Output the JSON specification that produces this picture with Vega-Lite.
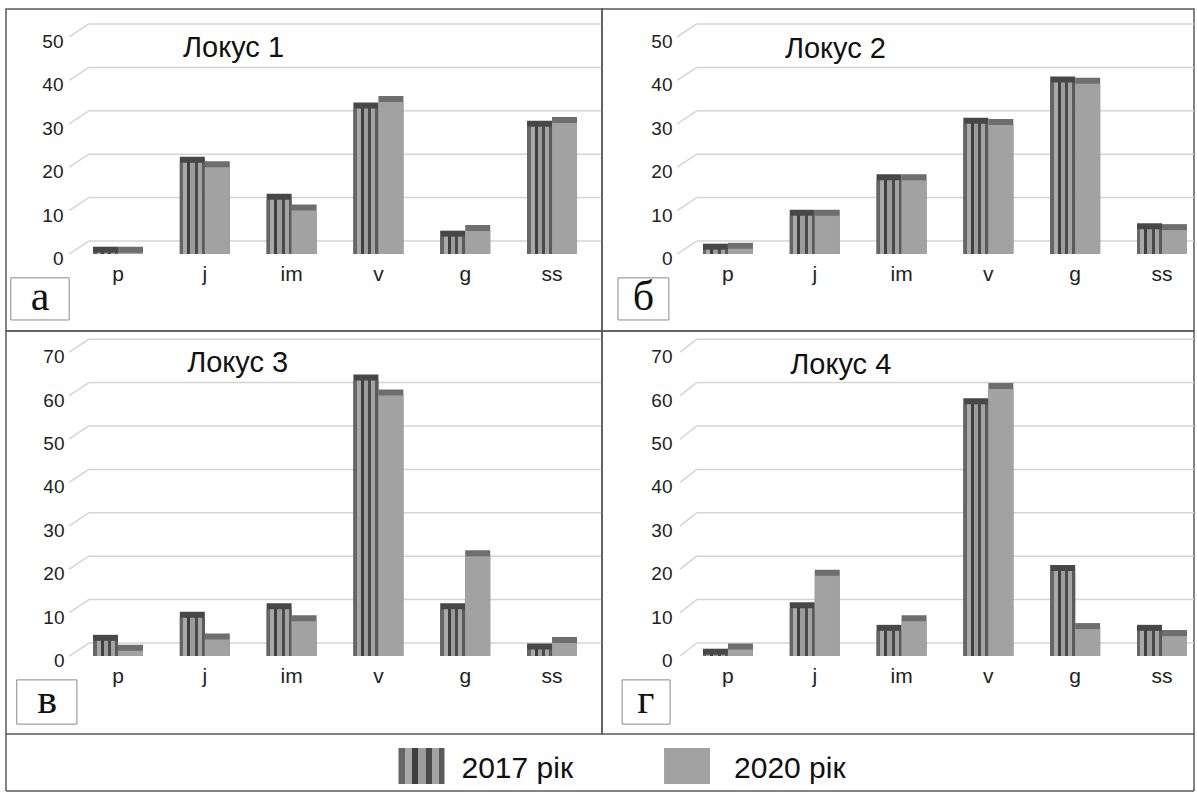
{
  "$schema": "https://vega.github.io/schema/vega-lite/v6.json",
  "padding": {"left": 5, "top": 8, "right": 0, "bottom": 0},
  "background": "white",
  "bounds": "flush",
  "spacing": 0,
  "columns": 2,
  "config": {
    "view": {"stroke": "#5a5a5a", "strokeWidth": 1.5},
    "axis": {"labelColor": "#222222", "labelFont": "Liberation Sans"}
  },
  "datasets": {
    "bars": [
      {"panel": "Локус 1", "cat": "p", "year": "2017", "value": 0.3},
      {"panel": "Локус 1", "cat": "p", "year": "2020", "value": 0.3},
      {"panel": "Локус 1", "cat": "j", "year": "2017", "value": 21},
      {"panel": "Локус 1", "cat": "j", "year": "2020", "value": 20},
      {"panel": "Локус 1", "cat": "im", "year": "2017", "value": 12.5},
      {"panel": "Локус 1", "cat": "im", "year": "2020", "value": 10},
      {"panel": "Локус 1", "cat": "v", "year": "2017", "value": 33.5},
      {"panel": "Локус 1", "cat": "v", "year": "2020", "value": 35},
      {"panel": "Локус 1", "cat": "g", "year": "2017", "value": 4},
      {"panel": "Локус 1", "cat": "g", "year": "2020", "value": 5.3},
      {"panel": "Локус 1", "cat": "ss", "year": "2017", "value": 29.3},
      {"panel": "Локус 1", "cat": "ss", "year": "2020", "value": 30.2},
      {"panel": "Локус 2", "cat": "p", "year": "2017", "value": 1},
      {"panel": "Локус 2", "cat": "p", "year": "2020", "value": 1.2},
      {"panel": "Локус 2", "cat": "j", "year": "2017", "value": 8.8},
      {"panel": "Локус 2", "cat": "j", "year": "2020", "value": 8.8},
      {"panel": "Локус 2", "cat": "im", "year": "2017", "value": 17},
      {"panel": "Локус 2", "cat": "im", "year": "2020", "value": 17},
      {"panel": "Локус 2", "cat": "v", "year": "2017", "value": 30},
      {"panel": "Локус 2", "cat": "v", "year": "2020", "value": 29.7},
      {"panel": "Локус 2", "cat": "g", "year": "2017", "value": 39.5},
      {"panel": "Локус 2", "cat": "g", "year": "2020", "value": 39.2},
      {"panel": "Локус 2", "cat": "ss", "year": "2017", "value": 5.7},
      {"panel": "Локус 2", "cat": "ss", "year": "2020", "value": 5.5},
      {"panel": "Локус 3", "cat": "p", "year": "2017", "value": 3.5},
      {"panel": "Локус 3", "cat": "p", "year": "2020", "value": 1.2},
      {"panel": "Локус 3", "cat": "j", "year": "2017", "value": 8.8},
      {"panel": "Локус 3", "cat": "j", "year": "2020", "value": 3.8},
      {"panel": "Локус 3", "cat": "im", "year": "2017", "value": 10.8},
      {"panel": "Локус 3", "cat": "im", "year": "2020", "value": 8},
      {"panel": "Локус 3", "cat": "v", "year": "2017", "value": 63.5},
      {"panel": "Локус 3", "cat": "v", "year": "2020", "value": 60},
      {"panel": "Локус 3", "cat": "g", "year": "2017", "value": 10.8},
      {"panel": "Локус 3", "cat": "g", "year": "2020", "value": 23},
      {"panel": "Локус 3", "cat": "ss", "year": "2017", "value": 1.5},
      {"panel": "Локус 3", "cat": "ss", "year": "2020", "value": 3},
      {"panel": "Локус 4", "cat": "p", "year": "2017", "value": 0.3},
      {"panel": "Локус 4", "cat": "p", "year": "2020", "value": 1.5},
      {"panel": "Локус 4", "cat": "j", "year": "2017", "value": 11},
      {"panel": "Локус 4", "cat": "j", "year": "2020", "value": 18.5},
      {"panel": "Локус 4", "cat": "im", "year": "2017", "value": 5.8},
      {"panel": "Локус 4", "cat": "im", "year": "2020", "value": 8},
      {"panel": "Локус 4", "cat": "v", "year": "2017", "value": 58},
      {"panel": "Локус 4", "cat": "v", "year": "2020", "value": 61.5},
      {"panel": "Локус 4", "cat": "g", "year": "2017", "value": 19.6},
      {"panel": "Локус 4", "cat": "g", "year": "2020", "value": 6.2},
      {"panel": "Локус 4", "cat": "ss", "year": "2017", "value": 5.8},
      {"panel": "Локус 4", "cat": "ss", "year": "2020", "value": 4.6}
    ],
    "grid": [{"v": 0}, {"v": 10}, {"v": 20}, {"v": 30}, {"v": 40}, {"v": 50}, {"v": 60}, {"v": 70}],
    "panels": [
      {"panel": "Локус 1", "letter": "а"},
      {"panel": "Локус 2", "letter": "б"},
      {"panel": "Локус 3", "letter": "в"},
      {"panel": "Локус 4", "letter": "г"}
    ],
    "legend": [
      {"label": "2017 рік", "year": "2017"},
      {"label": "2020 рік", "year": "2020"}
    ]
  },
  "concat": [
    {
      "width": 596, "height": 322,
      "resolve": {"scale": {"x": "independent"}},
      "layer": [
        {"data": {"name": "grid"}, "transform": [{"filter": "datum.v <= 50"}],
         "mark": {"type": "rule", "color": "#d4d4d4", "strokeWidth": 1.5, "yOffset": -13},
         "encoding": {
           "x": {"datum": 0.139, "type": "quantitative", "scale": {"domain": [0, 1]}, "axis": null},
           "x2": {"datum": 1},
           "y": {"field": "v", "type": "quantitative", "title": null,
                 "scale": {"domain": [-17.74, 56.45], "nice": false, "zero": false},
                 "axis": {"values": [0, 10, 20, 30, 40, 50], "offset": -57, "domain": false, "ticks": false, "grid": false, "labelPadding": 0, "labelFontSize": 19, "labelOffset": 4.5, "title": null}}}},
        {"data": {"name": "grid"}, "transform": [{"filter": "datum.v <= 50"}],
         "mark": {"type": "rule", "color": "#d4d4d4", "strokeWidth": 1.5, "y2Offset": -13},
         "encoding": {
           "x": {"datum": 0.106, "type": "quantitative", "scale": {"domain": [0, 1]}, "axis": null},
           "x2": {"datum": 0.139},
           "y": {"field": "v", "type": "quantitative", "title": null},
           "y2": {"field": "v"}}},
        {"data": {"name": "bars"}, "transform": [{"filter": "datum.panel === 'Локус 1'"}],
         "encoding": {
           "x": {"field": "cat", "type": "nominal", "scale": {"domain": ["p", "j", "im", "v", "g", "ss"], "paddingInner": 0.424, "paddingOuter": 0.645, "align": 0.777},
                 "axis": {"orient": "bottom", "offset": -68, "domain": false, "ticks": false, "labelPadding": 0, "labelFontSize": 21, "labelBaseline": "top", "labelAngle": 0, "title": null}},
           "xOffset": {"field": "year", "type": "nominal", "scale": {"domain": ["2017", "2020"]}},
           "y": {"field": "value", "type": "quantitative", "title": null},
           "y2": {"datum": 0}},
         "layer": [
           {"transform": [{"filter": "datum.year === '2017'"}], "mark": {"type": "bar", "color": "#474747", "xOffset": 7, "yOffset": -6}},
           {"transform": [{"filter": "datum.year === '2017'"}], "mark": {"type": "bar", "color": {"gradient": "linear", "x1": 0, "y1": 0, "x2": 1, "y2": 0, "stops": [{"offset": 0, "color": "#666666"}, {"offset": 0.14, "color": "#666666"}, {"offset": 0.14, "color": "#a9a9a9"}, {"offset": 0.3, "color": "#a9a9a9"}, {"offset": 0.3, "color": "#3f3f3f"}, {"offset": 0.42, "color": "#3f3f3f"}, {"offset": 0.42, "color": "#9c9c9c"}, {"offset": 0.6, "color": "#9c9c9c"}, {"offset": 0.6, "color": "#4a4a4a"}, {"offset": 0.72, "color": "#4a4a4a"}, {"offset": 0.72, "color": "#a3a3a3"}, {"offset": 0.88, "color": "#a3a3a3"}, {"offset": 0.88, "color": "#5a5a5a"}, {"offset": 1, "color": "#5a5a5a"}]}}},
           {"transform": [{"filter": "datum.year === '2020'"}], "mark": {"type": "bar", "color": "#6e6e6e", "xOffset": 7, "yOffset": -6}},
           {"transform": [{"filter": "datum.year === '2020'"}], "mark": {"type": "bar", "color": "#a2a2a2"}}
         ]},
        {"data": {"name": "panels"}, "transform": [{"filter": "datum.panel === 'Локус 1'"}],
         "mark": {"type": "rect", "fill": "white", "stroke": "#8a8a8a", "strokeWidth": 1},
         "encoding": {
           "x": {"datum": 0.008, "type": "quantitative", "scale": {"domain": [0, 1]}, "axis": null},
           "x2": {"datum": 0.106},
           "y": {"datum": -5.5, "type": "quantitative"},
           "y2": {"datum": -15.2}}},
        {"data": {"name": "panels"}, "transform": [{"filter": "datum.panel === 'Локус 1'"}],
         "mark": {"type": "text", "font": "Liberation Serif", "fontSize": 42, "color": "#111111", "align": "center", "baseline": "middle"},
         "encoding": {
           "x": {"datum": 0.057, "type": "quantitative", "scale": {"domain": [0, 1]}, "axis": null},
           "y": {"datum": -9.9, "type": "quantitative"},
           "text": {"field": "letter"}}},
        {"data": {"name": "panels"}, "transform": [{"filter": "datum.panel === 'Локус 1'"}],
         "mark": {"type": "text", "font": "Liberation Sans", "fontSize": 29, "color": "#111111", "align": "left", "baseline": "alphabetic"},
         "encoding": {
           "x": {"datum": 0.297, "type": "quantitative", "scale": {"domain": [0, 1]}, "axis": null},
           "y": {"datum": 45.4, "type": "quantitative"},
           "text": {"field": "panel"}}}
      ]
    },
    {
      "width": 592, "height": 322,
      "resolve": {"scale": {"x": "independent"}},
      "layer": [
        {"data": {"name": "grid"}, "transform": [{"filter": "datum.v <= 50"}],
         "mark": {"type": "rule", "color": "#d4d4d4", "strokeWidth": 1.5, "yOffset": -13},
         "encoding": {
           "x": {"datum": 0.16, "type": "quantitative", "scale": {"domain": [0, 1]}, "axis": null},
           "x2": {"datum": 1},
           "y": {"field": "v", "type": "quantitative", "title": null,
                 "scale": {"domain": [-17.74, 56.45], "nice": false, "zero": false},
                 "axis": {"values": [0, 10, 20, 30, 40, 50], "offset": -70, "domain": false, "ticks": false, "grid": false, "labelPadding": 0, "labelFontSize": 19, "labelOffset": 4.5, "title": null}}}},
        {"data": {"name": "grid"}, "transform": [{"filter": "datum.v <= 50"}],
         "mark": {"type": "rule", "color": "#d4d4d4", "strokeWidth": 1.5, "y2Offset": -13},
         "encoding": {
           "x": {"datum": 0.127, "type": "quantitative", "scale": {"domain": [0, 1]}, "axis": null},
           "x2": {"datum": 0.16},
           "y": {"field": "v", "type": "quantitative", "title": null},
           "y2": {"field": "v"}}},
        {"data": {"name": "bars"}, "transform": [{"filter": "datum.panel === 'Локус 2'"}],
         "encoding": {
           "x": {"field": "cat", "type": "nominal", "scale": {"domain": ["p", "j", "im", "v", "g", "ss"], "paddingInner": 0.424, "paddingOuter": 0.622, "align": 0.935},
                 "axis": {"orient": "bottom", "offset": -68, "domain": false, "ticks": false, "labelPadding": 0, "labelFontSize": 21, "labelBaseline": "top", "labelAngle": 0, "title": null}},
           "xOffset": {"field": "year", "type": "nominal", "scale": {"domain": ["2017", "2020"]}},
           "y": {"field": "value", "type": "quantitative", "title": null},
           "y2": {"datum": 0}},
         "layer": [
           {"transform": [{"filter": "datum.year === '2017'"}], "mark": {"type": "bar", "color": "#474747", "xOffset": 7, "yOffset": -6}},
           {"transform": [{"filter": "datum.year === '2017'"}], "mark": {"type": "bar", "color": {"gradient": "linear", "x1": 0, "y1": 0, "x2": 1, "y2": 0, "stops": [{"offset": 0, "color": "#666666"}, {"offset": 0.14, "color": "#666666"}, {"offset": 0.14, "color": "#a9a9a9"}, {"offset": 0.3, "color": "#a9a9a9"}, {"offset": 0.3, "color": "#3f3f3f"}, {"offset": 0.42, "color": "#3f3f3f"}, {"offset": 0.42, "color": "#9c9c9c"}, {"offset": 0.6, "color": "#9c9c9c"}, {"offset": 0.6, "color": "#4a4a4a"}, {"offset": 0.72, "color": "#4a4a4a"}, {"offset": 0.72, "color": "#a3a3a3"}, {"offset": 0.88, "color": "#a3a3a3"}, {"offset": 0.88, "color": "#5a5a5a"}, {"offset": 1, "color": "#5a5a5a"}]}}},
           {"transform": [{"filter": "datum.year === '2020'"}], "mark": {"type": "bar", "color": "#6e6e6e", "xOffset": 7, "yOffset": -6}},
           {"transform": [{"filter": "datum.year === '2020'"}], "mark": {"type": "bar", "color": "#a2a2a2"}}
         ]},
        {"data": {"name": "panels"}, "transform": [{"filter": "datum.panel === 'Локус 2'"}],
         "mark": {"type": "rect", "fill": "white", "stroke": "#8a8a8a", "strokeWidth": 1},
         "encoding": {
           "x": {"datum": 0.027, "type": "quantitative", "scale": {"domain": [0, 1]}, "axis": null},
           "x2": {"datum": 0.113},
           "y": {"datum": -5.5, "type": "quantitative"},
           "y2": {"datum": -15.2}}},
        {"data": {"name": "panels"}, "transform": [{"filter": "datum.panel === 'Локус 2'"}],
         "mark": {"type": "text", "font": "Liberation Serif", "fontSize": 42, "color": "#111111", "align": "center", "baseline": "middle"},
         "encoding": {
           "x": {"datum": 0.07, "type": "quantitative", "scale": {"domain": [0, 1]}, "axis": null},
           "y": {"datum": -9.9, "type": "quantitative"},
           "text": {"field": "letter"}}},
        {"data": {"name": "panels"}, "transform": [{"filter": "datum.panel === 'Локус 2'"}],
         "mark": {"type": "text", "font": "Liberation Sans", "fontSize": 29, "color": "#111111", "align": "left", "baseline": "alphabetic"},
         "encoding": {
           "x": {"datum": 0.309, "type": "quantitative", "scale": {"domain": [0, 1]}, "axis": null},
           "y": {"datum": 45.2, "type": "quantitative"},
           "text": {"field": "panel"}}}
      ]
    },
    {
      "width": 596, "height": 403,
      "resolve": {"scale": {"x": "independent"}},
      "layer": [
        {"data": {"name": "grid"}, "transform": [{"filter": "datum.v <= 70"}],
         "mark": {"type": "rule", "color": "#d4d4d4", "strokeWidth": 1.5, "yOffset": -13},
         "encoding": {
           "x": {"datum": 0.139, "type": "quantitative", "scale": {"domain": [0, 1]}, "axis": null},
           "x2": {"datum": 1},
           "y": {"field": "v", "type": "quantitative", "title": null,
                 "scale": {"domain": [-17.97, 74.88], "nice": false, "zero": false},
                 "axis": {"values": [0, 10, 20, 30, 40, 50, 60, 70], "offset": -58, "domain": false, "ticks": false, "grid": false, "labelPadding": 0, "labelFontSize": 19, "labelOffset": 4.5, "title": null}}}},
        {"data": {"name": "grid"}, "transform": [{"filter": "datum.v <= 70"}],
         "mark": {"type": "rule", "color": "#d4d4d4", "strokeWidth": 1.5, "y2Offset": -13},
         "encoding": {
           "x": {"datum": 0.106, "type": "quantitative", "scale": {"domain": [0, 1]}, "axis": null},
           "x2": {"datum": 0.139},
           "y": {"field": "v", "type": "quantitative", "title": null},
           "y2": {"field": "v"}}},
        {"data": {"name": "bars"}, "transform": [{"filter": "datum.panel === 'Локус 3'"}],
         "encoding": {
           "x": {"field": "cat", "type": "nominal", "scale": {"domain": ["p", "j", "im", "v", "g", "ss"], "paddingInner": 0.424, "paddingOuter": 0.645, "align": 0.777},
                 "axis": {"orient": "bottom", "offset": -69, "domain": false, "ticks": false, "labelPadding": 0, "labelFontSize": 21, "labelBaseline": "top", "labelAngle": 0, "title": null}},
           "xOffset": {"field": "year", "type": "nominal", "scale": {"domain": ["2017", "2020"]}},
           "y": {"field": "value", "type": "quantitative", "title": null},
           "y2": {"datum": 0}},
         "layer": [
           {"transform": [{"filter": "datum.year === '2017'"}], "mark": {"type": "bar", "color": "#474747", "xOffset": 7, "yOffset": -6}},
           {"transform": [{"filter": "datum.year === '2017'"}], "mark": {"type": "bar", "color": {"gradient": "linear", "x1": 0, "y1": 0, "x2": 1, "y2": 0, "stops": [{"offset": 0, "color": "#666666"}, {"offset": 0.14, "color": "#666666"}, {"offset": 0.14, "color": "#a9a9a9"}, {"offset": 0.3, "color": "#a9a9a9"}, {"offset": 0.3, "color": "#3f3f3f"}, {"offset": 0.42, "color": "#3f3f3f"}, {"offset": 0.42, "color": "#9c9c9c"}, {"offset": 0.6, "color": "#9c9c9c"}, {"offset": 0.6, "color": "#4a4a4a"}, {"offset": 0.72, "color": "#4a4a4a"}, {"offset": 0.72, "color": "#a3a3a3"}, {"offset": 0.88, "color": "#a3a3a3"}, {"offset": 0.88, "color": "#5a5a5a"}, {"offset": 1, "color": "#5a5a5a"}]}}},
           {"transform": [{"filter": "datum.year === '2020'"}], "mark": {"type": "bar", "color": "#6e6e6e", "xOffset": 7, "yOffset": -6}},
           {"transform": [{"filter": "datum.year === '2020'"}], "mark": {"type": "bar", "color": "#a2a2a2"}}
         ]},
        {"data": {"name": "panels"}, "transform": [{"filter": "datum.panel === 'Локус 3'"}],
         "mark": {"type": "rect", "fill": "white", "stroke": "#8a8a8a", "strokeWidth": 1},
         "encoding": {
           "x": {"datum": 0.018, "type": "quantitative", "scale": {"domain": [0, 1]}, "axis": null},
           "x2": {"datum": 0.119},
           "y": {"datum": -5.5, "type": "quantitative"},
           "y2": {"datum": -15.7}}},
        {"data": {"name": "panels"}, "transform": [{"filter": "datum.panel === 'Локус 3'"}],
         "mark": {"type": "text", "font": "Liberation Serif", "fontSize": 42, "color": "#111111", "align": "center", "baseline": "middle"},
         "encoding": {
           "x": {"datum": 0.069, "type": "quantitative", "scale": {"domain": [0, 1]}, "axis": null},
           "y": {"datum": -10.1, "type": "quantitative"},
           "text": {"field": "letter"}}},
        {"data": {"name": "panels"}, "transform": [{"filter": "datum.panel === 'Локус 3'"}],
         "mark": {"type": "text", "font": "Liberation Sans", "fontSize": 29, "color": "#111111", "align": "left", "baseline": "alphabetic"},
         "encoding": {
           "x": {"datum": 0.304, "type": "quantitative", "scale": {"domain": [0, 1]}, "axis": null},
           "y": {"datum": 65.4, "type": "quantitative"},
           "text": {"field": "panel"}}}
      ]
    },
    {
      "width": 592, "height": 403,
      "resolve": {"scale": {"x": "independent"}},
      "layer": [
        {"data": {"name": "grid"}, "transform": [{"filter": "datum.v <= 70"}],
         "mark": {"type": "rule", "color": "#d4d4d4", "strokeWidth": 1.5, "yOffset": -13},
         "encoding": {
           "x": {"datum": 0.16, "type": "quantitative", "scale": {"domain": [0, 1]}, "axis": null},
           "x2": {"datum": 1},
           "y": {"field": "v", "type": "quantitative", "title": null,
                 "scale": {"domain": [-17.97, 74.88], "nice": false, "zero": false},
                 "axis": {"values": [0, 10, 20, 30, 40, 50, 60, 70], "offset": -70, "domain": false, "ticks": false, "grid": false, "labelPadding": 0, "labelFontSize": 19, "labelOffset": 4.5, "title": null}}}},
        {"data": {"name": "grid"}, "transform": [{"filter": "datum.v <= 70"}],
         "mark": {"type": "rule", "color": "#d4d4d4", "strokeWidth": 1.5, "y2Offset": -13},
         "encoding": {
           "x": {"datum": 0.132, "type": "quantitative", "scale": {"domain": [0, 1]}, "axis": null},
           "x2": {"datum": 0.16},
           "y": {"field": "v", "type": "quantitative", "title": null},
           "y2": {"field": "v"}}},
        {"data": {"name": "bars"}, "transform": [{"filter": "datum.panel === 'Локус 4'"}],
         "encoding": {
           "x": {"field": "cat", "type": "nominal", "scale": {"domain": ["p", "j", "im", "v", "g", "ss"], "paddingInner": 0.424, "paddingOuter": 0.622, "align": 0.935},
                 "axis": {"orient": "bottom", "offset": -69, "domain": false, "ticks": false, "labelPadding": 0, "labelFontSize": 21, "labelBaseline": "top", "labelAngle": 0, "title": null}},
           "xOffset": {"field": "year", "type": "nominal", "scale": {"domain": ["2017", "2020"]}},
           "y": {"field": "value", "type": "quantitative", "title": null},
           "y2": {"datum": 0}},
         "layer": [
           {"transform": [{"filter": "datum.year === '2017'"}], "mark": {"type": "bar", "color": "#474747", "xOffset": 7, "yOffset": -6}},
           {"transform": [{"filter": "datum.year === '2017'"}], "mark": {"type": "bar", "color": {"gradient": "linear", "x1": 0, "y1": 0, "x2": 1, "y2": 0, "stops": [{"offset": 0, "color": "#666666"}, {"offset": 0.14, "color": "#666666"}, {"offset": 0.14, "color": "#a9a9a9"}, {"offset": 0.3, "color": "#a9a9a9"}, {"offset": 0.3, "color": "#3f3f3f"}, {"offset": 0.42, "color": "#3f3f3f"}, {"offset": 0.42, "color": "#9c9c9c"}, {"offset": 0.6, "color": "#9c9c9c"}, {"offset": 0.6, "color": "#4a4a4a"}, {"offset": 0.72, "color": "#4a4a4a"}, {"offset": 0.72, "color": "#a3a3a3"}, {"offset": 0.88, "color": "#a3a3a3"}, {"offset": 0.88, "color": "#5a5a5a"}, {"offset": 1, "color": "#5a5a5a"}]}}},
           {"transform": [{"filter": "datum.year === '2020'"}], "mark": {"type": "bar", "color": "#6e6e6e", "xOffset": 7, "yOffset": -6}},
           {"transform": [{"filter": "datum.year === '2020'"}], "mark": {"type": "bar", "color": "#a2a2a2"}}
         ]},
        {"data": {"name": "panels"}, "transform": [{"filter": "datum.panel === 'Локус 4'"}],
         "mark": {"type": "rect", "fill": "white", "stroke": "#8a8a8a", "strokeWidth": 1},
         "encoding": {
           "x": {"datum": 0.034, "type": "quantitative", "scale": {"domain": [0, 1]}, "axis": null},
           "x2": {"datum": 0.115},
           "y": {"datum": -5.5, "type": "quantitative"},
           "y2": {"datum": -15.7}}},
        {"data": {"name": "panels"}, "transform": [{"filter": "datum.panel === 'Локус 4'"}],
         "mark": {"type": "text", "font": "Liberation Serif", "fontSize": 42, "color": "#111111", "align": "center", "baseline": "middle"},
         "encoding": {
           "x": {"datum": 0.074, "type": "quantitative", "scale": {"domain": [0, 1]}, "axis": null},
           "y": {"datum": -10.1, "type": "quantitative"},
           "text": {"field": "letter"}}},
        {"data": {"name": "panels"}, "transform": [{"filter": "datum.panel === 'Локус 4'"}],
         "mark": {"type": "text", "font": "Liberation Sans", "fontSize": 29, "color": "#111111", "align": "left", "baseline": "alphabetic"},
         "encoding": {
           "x": {"datum": 0.318, "type": "quantitative", "scale": {"domain": [0, 1]}, "axis": null},
           "y": {"datum": 65.0, "type": "quantitative"},
           "text": {"field": "panel"}}}
      ]
    },
    {
      "width": 596, "height": 57,
      "view": {"stroke": null},
      "data": {"name": "legend"},
      "transform": [{"filter": "datum.year === '2017'"}],
      "resolve": {"scale": {"x": "independent"}},
      "layer": [
        {"mark": {"type": "rule", "color": "#5a5a5a", "strokeWidth": 1.5},
         "encoding": {
           "x": {"datum": 0, "type": "quantitative", "scale": {"domain": [0, 1]}, "axis": null},
           "x2": {"datum": 1},
           "y": {"datum": 0, "type": "quantitative", "scale": {"domain": [0, 1], "nice": false}, "axis": null}}},
        {"mark": {"type": "rule", "color": "#5a5a5a", "strokeWidth": 1.5},
         "encoding": {
           "x": {"datum": 0, "type": "quantitative", "scale": {"domain": [0, 1]}, "axis": null},
           "y": {"datum": 0, "type": "quantitative"},
           "y2": {"datum": 1}}},
        {"encoding": {
           "x": {"field": "label", "type": "nominal", "scale": {"domain": ["2017 рік"], "paddingInner": 0, "paddingOuter": 1, "align": 0.7957}, "axis": null}},
         "layer": [
           {"mark": {"type": "bar", "width": 46, "color": {"gradient": "linear", "x1": 0, "y1": 0, "x2": 1, "y2": 0, "stops": [{"offset": 0, "color": "#666666"}, {"offset": 0.14, "color": "#666666"}, {"offset": 0.14, "color": "#a9a9a9"}, {"offset": 0.3, "color": "#a9a9a9"}, {"offset": 0.3, "color": "#3f3f3f"}, {"offset": 0.42, "color": "#3f3f3f"}, {"offset": 0.42, "color": "#9c9c9c"}, {"offset": 0.6, "color": "#9c9c9c"}, {"offset": 0.6, "color": "#4a4a4a"}, {"offset": 0.72, "color": "#4a4a4a"}, {"offset": 0.72, "color": "#a3a3a3"}, {"offset": 0.88, "color": "#a3a3a3"}, {"offset": 0.88, "color": "#5a5a5a"}, {"offset": 1, "color": "#5a5a5a"}]}},
            "encoding": {"y": {"datum": 0.123, "type": "quantitative"}, "y2": {"datum": 0.754}}},
           {"mark": {"type": "text", "align": "left", "baseline": "alphabetic", "dx": 40, "fontSize": 30, "font": "Liberation Sans", "color": "#111111"},
            "encoding": {"y": {"datum": 0.228, "type": "quantitative"}, "text": {"field": "label"}}}
         ]}
      ]
    },
    {
      "width": 592, "height": 57,
      "view": {"stroke": null},
      "data": {"name": "legend"},
      "transform": [{"filter": "datum.year === '2020'"}],
      "resolve": {"scale": {"x": "independent"}},
      "layer": [
        {"mark": {"type": "rule", "color": "#5a5a5a", "strokeWidth": 1.5},
         "encoding": {
           "x": {"datum": 0, "type": "quantitative", "scale": {"domain": [0, 1]}, "axis": null},
           "x2": {"datum": 1},
           "y": {"datum": 0, "type": "quantitative", "scale": {"domain": [0, 1], "nice": false}, "axis": null}}},
        {"mark": {"type": "rule", "color": "#5a5a5a", "strokeWidth": 1.5},
         "encoding": {
           "x": {"datum": 1, "type": "quantitative", "scale": {"domain": [0, 1]}, "axis": null},
           "y": {"datum": 0, "type": "quantitative"},
           "y2": {"datum": 1}}},
        {"encoding": {
           "x": {"field": "label", "type": "nominal", "scale": {"domain": ["2020 рік"], "paddingInner": 0.194, "paddingOuter": 1, "align": 0}, "axis": null}},
         "layer": [
           {"mark": {"type": "bar", "width": 46, "color": "#a2a2a2"},
            "encoding": {"y": {"datum": 0.123, "type": "quantitative"}, "y2": {"datum": 0.754}}},
           {"mark": {"type": "text", "align": "left", "baseline": "alphabetic", "dx": 47, "fontSize": 30, "font": "Liberation Sans", "color": "#111111"},
            "encoding": {"y": {"datum": 0.228, "type": "quantitative"}, "text": {"field": "label"}}}
         ]}
      ]
    }
  ]
}
